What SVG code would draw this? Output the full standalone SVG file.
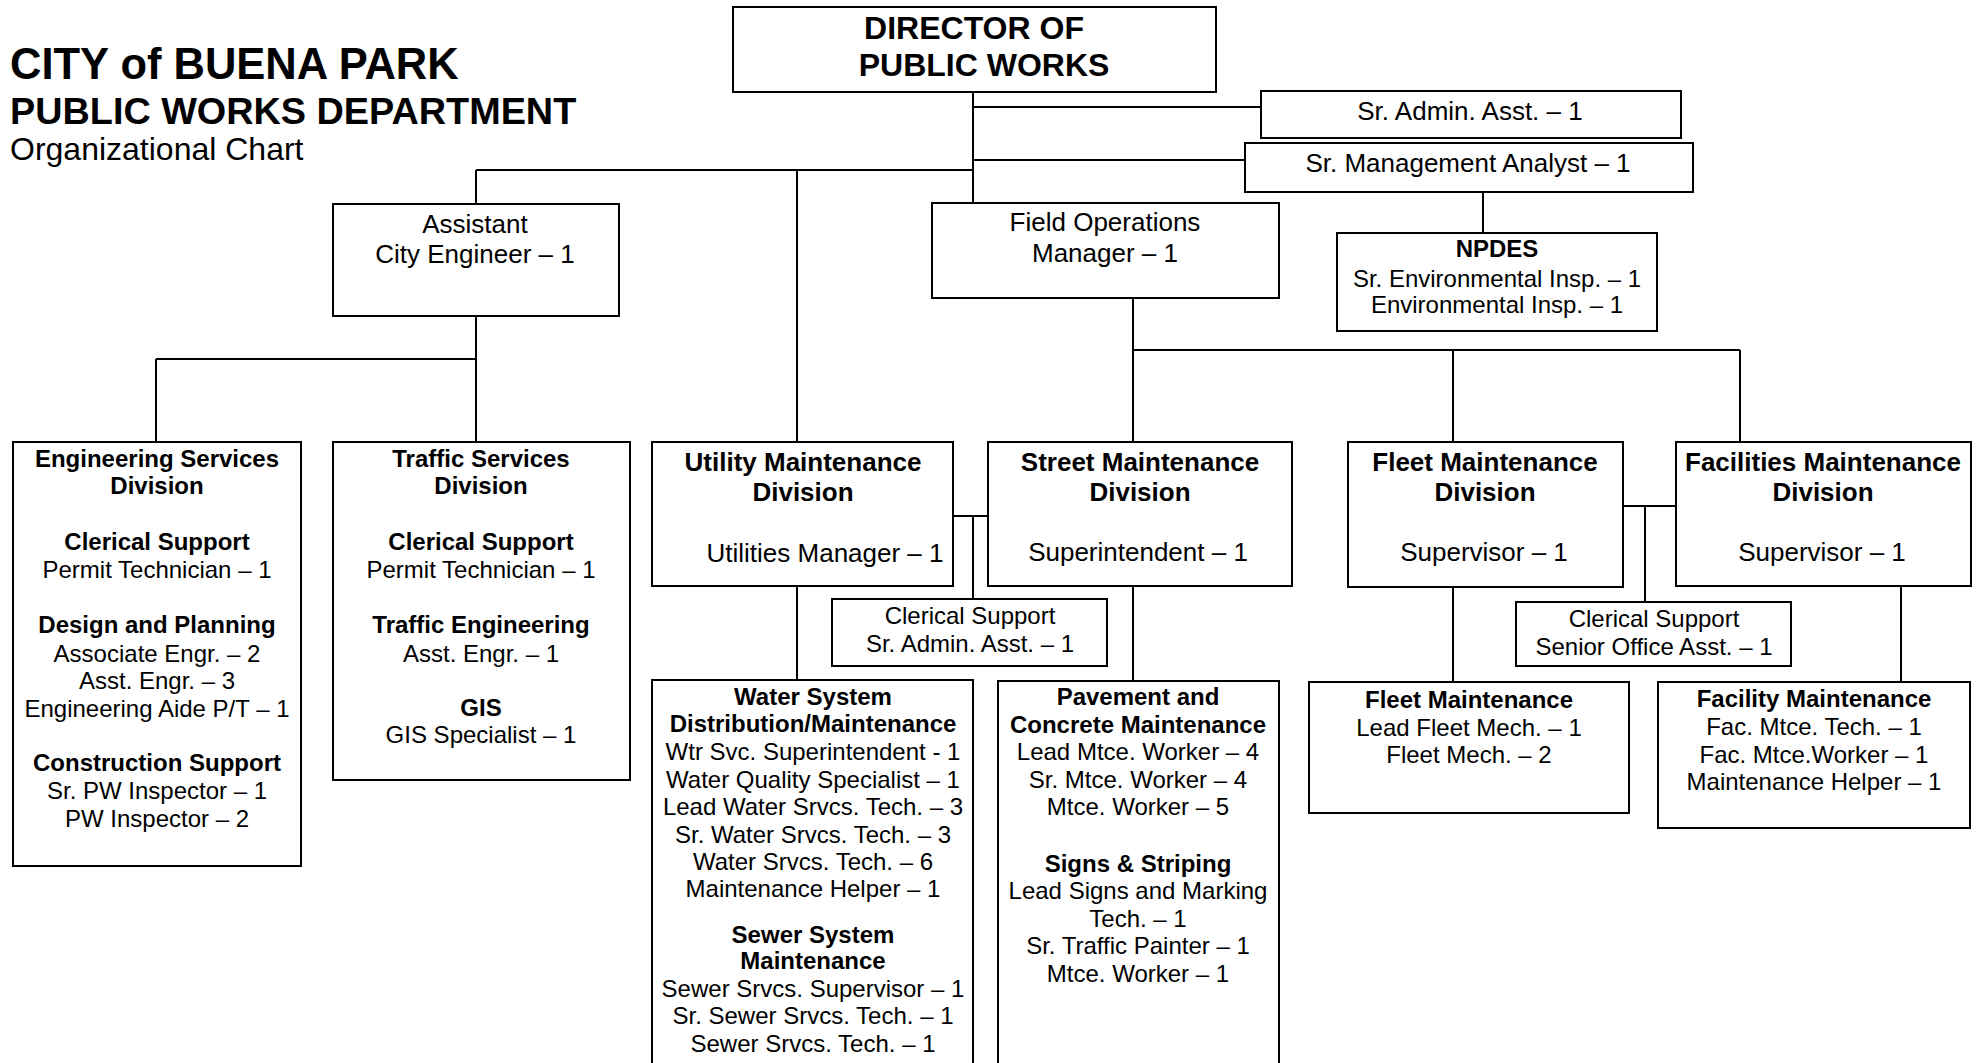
<svg xmlns="http://www.w3.org/2000/svg" width="1979" height="1063" viewBox="0 0 1979 1063">
<style>
.box{fill:#fff;stroke:#000;stroke-width:2}
.ln{fill:none;stroke:#000;stroke-width:2}
text{font-family:"Liberation Sans",Arial,Helvetica,sans-serif;font-size:24px;fill:#000;text-anchor:middle}
.b{font-weight:bold}
.m{font-size:26px}
.l{text-anchor:start}
</style>
<rect width="1979" height="1063" fill="#fff"/>
<g id="title">
<text class="b l" x="10" y="79" style="font-size:43.5px">CITY of BUENA PARK</text>
<text class="b l" x="10" y="124" style="font-size:37.8px">PUBLIC WORKS DEPARTMENT</text>
<text class="l" x="10" y="160" style="font-size:32px">Organizational Chart</text>
</g>
<g id="connectors">
<path class="ln" d="M973 92V203M973 107H1261M973 160H1245M476 170H973M476 170V204M797 170V442M476 316V442M156 359H476M156 359V442M1483 192V233M1133 298V442M1133 350H1740M1453 350V442M1740 350V442M953 516H988M973 516V599M797 586V680M1133 586V681M1623 506H1676M1645 506V602M1453 587V682M1901 586V682"/>
</g>
<g id="director">
<rect class="box" x="733" y="7" width="483" height="85"/>
<text class="b" x="974" y="39" style="font-size:32px">DIRECTOR OF</text>
<text class="b" x="984" y="76" style="font-size:32px">PUBLIC WORKS</text>
</g>
<g id="sr-admin">
<rect class="box" x="1261" y="91" width="420" height="47"/>
<text class="m" x="1470" y="120">Sr. Admin. Asst. – 1</text>
</g>
<g id="sr-mgmt">
<rect class="box" x="1245" y="143" width="448" height="49"/>
<text class="m" x="1468" y="172">Sr. Management Analyst – 1</text>
</g>
<g id="assistant">
<rect class="box" x="333" y="204" width="286" height="112"/>
<text class="m" x="475" y="233">Assistant</text>
<text class="m" x="475" y="263">City Engineer – 1</text>
</g>
<g id="field-ops">
<rect class="box" x="932" y="203" width="347" height="95"/>
<text class="m" x="1105" y="231">Field Operations</text>
<text class="m" x="1105" y="262">Manager – 1</text>
</g>
<g id="npdes">
<rect class="box" x="1337" y="233" width="320" height="98"/>
<text class="b" x="1497" y="257">NPDES</text>
<text x="1497" y="287">Sr. Environmental Insp. – 1</text>
<text x="1497" y="313">Environmental Insp. – 1</text>
</g>
<g id="engineering">
<rect class="box" x="13" y="442" width="288" height="424"/>
<text class="b" x="157" y="467">Engineering Services</text>
<text class="b" x="157" y="494">Division</text>
<text class="b" x="157" y="550">Clerical Support</text>
<text x="157" y="578">Permit Technician – 1</text>
<text class="b" x="157" y="633">Design and Planning</text>
<text x="157" y="662">Associate Engr. – 2</text>
<text x="157" y="689">Asst. Engr. – 3</text>
<text x="157" y="717">Engineering Aide P/T – 1</text>
<text class="b" x="157" y="771">Construction Support</text>
<text x="157" y="799">Sr. PW Inspector – 1</text>
<text x="157" y="827">PW Inspector – 2</text>
</g>
<g id="traffic">
<rect class="box" x="333" y="442" width="297" height="338"/>
<text class="b" x="481" y="467">Traffic Services</text>
<text class="b" x="481" y="494">Division</text>
<text class="b" x="481" y="550">Clerical Support</text>
<text x="481" y="578">Permit Technician – 1</text>
<text class="b" x="481" y="633">Traffic Engineering</text>
<text x="481" y="662">Asst. Engr. – 1</text>
<text class="b" x="481" y="716">GIS</text>
<text x="481" y="743">GIS Specialist – 1</text>
</g>
<g id="utility">
<rect class="box" x="652" y="442" width="301" height="144"/>
<text class="b m" x="803" y="471">Utility Maintenance</text>
<text class="b m" x="803" y="501">Division</text>
<text class="m" x="825" y="562">Utilities Manager – 1</text>
</g>
<g id="street">
<rect class="box" x="988" y="442" width="304" height="144"/>
<text class="b m" x="1140" y="471">Street Maintenance</text>
<text class="b m" x="1140" y="501">Division</text>
<text class="m" x="1138" y="561">Superintendent – 1</text>
</g>
<g id="clerical-utility">
<rect class="box" x="832" y="599" width="275" height="67"/>
<text x="970" y="624">Clerical Support</text>
<text x="970" y="652">Sr. Admin. Asst. – 1</text>
</g>
<g id="water">
<rect class="box" x="652" y="680" width="321" height="420"/>
<text class="b" x="813" y="705">Water System</text>
<text class="b" x="813" y="732">Distribution/Maintenance</text>
<text x="813" y="760">Wtr Svc. Superintendent - 1</text>
<text x="813" y="788">Water Quality Specialist – 1</text>
<text x="813" y="815">Lead Water Srvcs. Tech. – 3</text>
<text x="813" y="843">Sr. Water Srvcs. Tech. – 3</text>
<text x="813" y="870">Water Srvcs. Tech. – 6</text>
<text x="813" y="897">Maintenance Helper – 1</text>
<text class="b" x="813" y="943">Sewer System</text>
<text class="b" x="813" y="969">Maintenance</text>
<text x="813" y="997">Sewer Srvcs. Supervisor – 1</text>
<text x="813" y="1024">Sr. Sewer Srvcs. Tech. – 1</text>
<text x="813" y="1052">Sewer Srvcs. Tech. – 1</text>
</g>
<g id="pavement">
<rect class="box" x="998" y="681" width="281" height="420"/>
<text class="b" x="1138" y="705">Pavement and</text>
<text class="b" x="1138" y="733">Concrete Maintenance</text>
<text x="1138" y="760">Lead Mtce. Worker – 4</text>
<text x="1138" y="788">Sr. Mtce. Worker – 4</text>
<text x="1138" y="815">Mtce. Worker – 5</text>
<text class="b" x="1138" y="872">Signs &amp; Striping</text>
<text x="1138" y="899">Lead Signs and Marking</text>
<text x="1138" y="927">Tech. – 1</text>
<text x="1138" y="954">Sr. Traffic Painter – 1</text>
<text x="1138" y="982">Mtce. Worker – 1</text>
</g>
<g id="fleet-division">
<rect class="box" x="1348" y="442" width="275" height="145"/>
<text class="b m" x="1485" y="471">Fleet Maintenance</text>
<text class="b m" x="1485" y="501">Division</text>
<text class="m" x="1484" y="561">Supervisor – 1</text>
</g>
<g id="facilities-division">
<rect class="box" x="1676" y="442" width="295" height="144"/>
<text class="b m" x="1823" y="471">Facilities Maintenance</text>
<text class="b m" x="1823" y="501">Division</text>
<text class="m" x="1822" y="561">Supervisor – 1</text>
</g>
<g id="clerical-fleet">
<rect class="box" x="1516" y="602" width="275" height="64"/>
<text x="1654" y="627">Clerical Support</text>
<text x="1654" y="655">Senior Office Asst. – 1</text>
</g>
<g id="fleet-maintenance">
<rect class="box" x="1309" y="682" width="320" height="131"/>
<text class="b" x="1469" y="708">Fleet Maintenance</text>
<text x="1469" y="736">Lead Fleet Mech. – 1</text>
<text x="1469" y="763">Fleet Mech. – 2</text>
</g>
<g id="facility-maintenance">
<rect class="box" x="1658" y="682" width="312" height="146"/>
<text class="b" x="1814" y="707">Facility Maintenance</text>
<text x="1814" y="735">Fac. Mtce. Tech. – 1</text>
<text x="1814" y="763">Fac. Mtce.Worker – 1</text>
<text x="1814" y="790">Maintenance Helper – 1</text>
</g>
</svg>
